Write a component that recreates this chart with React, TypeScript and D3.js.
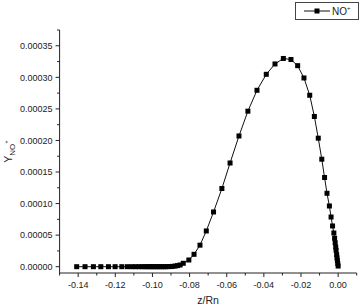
import React from "react";
import * as d3 from "d3";

const W = 360;
const H = 307;

const zValues: number[] = [
  -0.1408, -0.1363, -0.1318, -0.1278, -0.1237, -0.1201, -0.1165, -0.1135, -0.1111,
  -0.1091, -0.1072, -0.1056, -0.1041, -0.1029, -0.1017, -0.1006, -0.0995, -0.0984,
  -0.0974, -0.0963, -0.0952, -0.0941, -0.093, -0.0918, -0.0905, -0.0892, -0.0878,
  -0.0865, -0.0851, -0.0834, -0.0804, -0.0776, -0.0744, -0.071, -0.0671, -0.0626,
  -0.0582, -0.0534, -0.0486, -0.0437, -0.0387, -0.034, -0.0295, -0.0254, -0.0218,
  -0.0184, -0.0153, -0.0128, -0.0107, -0.0088, -0.0073, -0.006, -0.0047, -0.0038,
  -0.003, -0.0023, -0.0019, -0.0016, -0.0013, -0.0011, -0.0008, -0.0006, -0.0004,
  -0.0002, 0.0,
];

const yNO: number[] = [
  0, 0, 0, 0, 0, 0, 0, 0, 0,
  0, 0, 0, 0, 0, 0, 0, 0, 0,
  0, 0, 0, 0, 0, 0.0000001, 0.0000002, 0.0000005, 0.000001,
  0.0000017, 0.0000027, 0.0000054, 0.0000106, 0.0000196, 0.0000341, 0.0000566, 0.0000867, 0.0001239,
  0.0001643, 0.0002071, 0.0002464, 0.0002795, 0.0003048, 0.0003212, 0.0003299, 0.0003283, 0.0003185,
  0.000299, 0.0002716, 0.000238, 0.0002036, 0.0001703, 0.0001413, 0.0001163, 0.0000962, 0.0000787,
  0.0000645, 0.0000534, 0.000045, 0.000038, 0.000031, 0.000026, 0.000019, 0.000014, 0.0000095,
  0.000005, 0.000001,
];

const xMajorTicks: number[] = [-0.14, -0.12, -0.1, -0.08, -0.06, -0.04, -0.02, 0.0];
const xMinorTicks: number[] = [-0.15, -0.13, -0.11, -0.09, -0.07, -0.05, -0.03, -0.01, 0.01];
const yMajorTicks: number[] = [0, 0.00005, 0.0001, 0.00015, 0.0002, 0.00025, 0.0003, 0.00035];
const yMinorTicks: number[] = [0.000025, 0.000075, 0.000125, 0.000175, 0.000225, 0.000275, 0.000325, 0.000375];

const xLabel = "z/Rn";
const seriesName = "NO";

const FONT = "'Liberation Sans', Arial, sans-serif";
const TXT = "#222";

export default function App() {
  const left = 59.6;
  const right = 356.7;
  const top = 30;
  const bottom = 273;

  const x = d3.scaleLinear().domain([-0.15, 0.01]).range([left, right]);
  const y = d3.scaleLinear().domain([-0.00001, 0.000375]).range([bottom, top]);

  const pts = zValues.map((z, i) => [z, yNO[i]] as [number, number]);
  const line = d3
    .line<[number, number]>()
    .x((d) => x(d[0]))
    .y((d) => y(d[1]));

  const ms = 5;

  return (
    <svg
      width={W}
      height={H}
      style={{ position: "fixed", left: 0, top: 0, background: "#fff" }}
      fontFamily={FONT}
    >
      <rect x={0} y={0} width={W} height={H} fill="#fff" />

      {/* data */}
      <path d={line(pts) || ""} fill="none" stroke="#111" strokeWidth={1} />
      {pts.map((d, i) => (
        <rect
          key={i}
          x={x(d[0]) - ms / 2}
          y={y(d[1]) - ms / 2}
          width={ms}
          height={ms}
          fill="#000"
        />
      ))}

      {/* axes */}
      <line x1={left} x2={right} y1={bottom} y2={bottom} stroke="#222" strokeWidth={1} />
      <line x1={left} x2={left} y1={top} y2={bottom} stroke="#222" strokeWidth={1} />

      {xMajorTicks.map((t) => (
        <g key={"xm" + t}>
          <line x1={x(t)} x2={x(t)} y1={bottom} y2={bottom + 4} stroke="#222" />
          <text
            x={x(t)}
            y={bottom + 15}
            fontSize={9}
            textAnchor="middle"
            fill={TXT}
          >
            {d3.format(".2f")(t).replace("−", "-")}
          </text>
        </g>
      ))}
      {xMinorTicks.map((t) => (
        <line key={"xn" + t} x1={x(t)} x2={x(t)} y1={bottom} y2={bottom + 2.5} stroke="#222" />
      ))}

      {yMajorTicks.map((t) => (
        <g key={"ym" + t}>
          <line x1={left - 4} x2={left} y1={y(t)} y2={y(t)} stroke="#222" />
          <text
            x={left - 7}
            y={y(t) + 3.2}
            fontSize={9}
            textAnchor="end"
            fill={TXT}
          >
            {d3.format(".5f")(t)}
          </text>
        </g>
      ))}
      {yMinorTicks.map((t) => (
        <line key={"yn" + t} x1={left - 2.5} x2={left} y1={y(t)} y2={y(t)} stroke="#222" />
      ))}

      {/* axis titles */}
      <text x={(left + right) / 2} y={304} fontSize={10.5} textAnchor="middle" fill={TXT}>
        {xLabel}
      </text>
      <text
        transform={`translate(12, ${(top + bottom) / 2}) rotate(-90)`}
        fontSize={10.5}
        textAnchor="middle"
        fill={TXT}
      >
        Y
        <tspan fontSize={8} dy={3}>
          {seriesName}
        </tspan>
        <tspan fontSize={6} dy={-7}>
          +
        </tspan>
      </text>

      {/* legend */}
      <rect x={295.5} y={2.5} width={63} height={17} fill="#fff" stroke="#444" strokeWidth={1} />
      <line x1={304} x2={330} y1={11} y2={11} stroke="#111" strokeWidth={1} />
      <rect x={317 - ms / 2} y={11 - ms / 2} width={ms} height={ms} fill="#000" />
      <text x={332} y={15} fontSize={10} fill={TXT}>
        {seriesName}
        <tspan fontSize={6} dy={-5}>
          +
        </tspan>
      </text>
    </svg>
  );
}
